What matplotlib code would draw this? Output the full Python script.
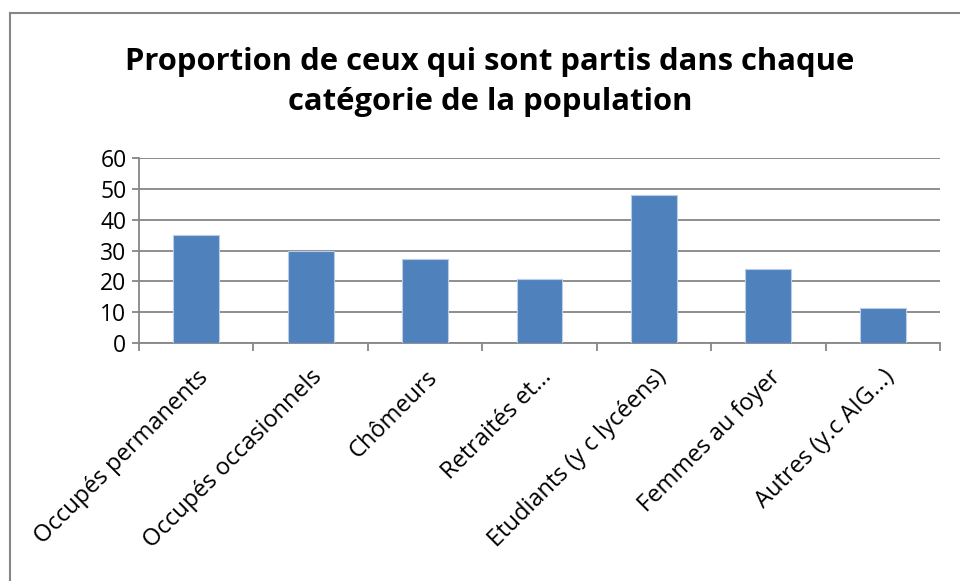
import matplotlib.pyplot as plt
from matplotlib.lines import Line2D
import numpy as np

categories = ["Occupés permanents", "Occupés occasionnels", "Chômeurs",
              "Retraités et...", "Etudiants (y c lycéens)", "Femmes au foyer",
              "Autres (y.c AIG...)"]
values = [35.0, 29.8, 27.4, 20.6, 47.9, 24.0, 11.3]
yticks = [0, 10, 20, 30, 40, 50, 60]

plt.rcParams['font.family'] = ['Open Sans', 'DejaVu Sans']

fig = plt.figure(figsize=(9.6, 5.81), dpi=100)
ax = fig.add_axes([139 / 960, 1 - 343 / 581, 801 / 960, 185 / 581])

x = np.arange(len(categories))
ax.bar(x, values, width=0.4, color="#4F81BD", edgecolor="#B9CDE5", linewidth=0.8, zorder=3)

ax.set_xlim(-0.5, len(categories) - 0.5)
ax.set_ylim(0, 60)
ax.set_yticks(yticks)
ax.set_yticklabels([str(v) for v in yticks], fontsize=16.5)
ax.yaxis.grid(True, color="#868686", linewidth=1.3, zorder=0)

ax.set_xticks(x)
ax.set_xticklabels(categories, rotation=45, ha="right", rotation_mode="anchor", fontsize=17)
ax.set_xticks(np.arange(-0.5, len(categories)), minor=True)
ax.tick_params(axis="x", which="major", length=0, pad=16)
ax.tick_params(axis="x", which="minor", length=6, width=1.3, color="#868686", direction="out")
ax.tick_params(axis="y", length=5, width=1.3, color="#868686", pad=4)

for side in ["top", "right"]:
    ax.spines[side].set_visible(False)
ax.spines["left"].set_color("#868686")
ax.spines["bottom"].set_color("#868686")
ax.spines["left"].set_linewidth(1.3)
ax.spines["bottom"].set_linewidth(1.3)

fig.text(490 / 960, 1 - 82 / 581, "Proportion de ceux qui sont partis dans chaque\ncatégorie de la population",
         ha="center", va="center", fontsize=22.3, fontweight="bold", linespacing=1.45)

# chart border (top and left only visible)
fig.add_artist(Line2D([10 / 960, 1], [1 - 13 / 581, 1 - 13 / 581], color="#868686", linewidth=1.5))
fig.add_artist(Line2D([10 / 960, 10 / 960], [0, 1 - 13 / 581], color="#868686", linewidth=1.5))

fig.savefig("out.png", dpi=100)
